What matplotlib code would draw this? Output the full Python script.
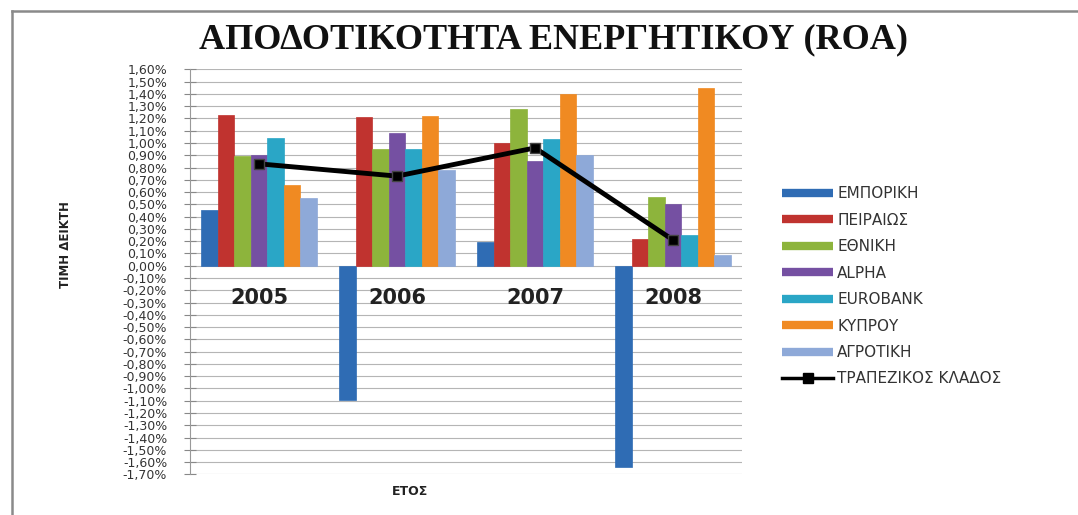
import numpy as np
import matplotlib
matplotlib.use("Agg")
from matplotlib import pyplot as plt
from matplotlib.lines import Line2D
from matplotlib.ticker import FuncFormatter, MultipleLocator

years = ["2005", "2006", "2007", "2008"]
banks = ["ΕΜΠΟΡΙΚΗ", "ΠΕΙΡΑΙΩΣ", "ΕΘΝΙΚΗ", "ALPHA", "EUROBANK", "ΚΥΠΡΟΥ", "ΑΓΡΟΤΙΚΗ"]

# ROA per bank, in %, one value per year
emporiki = [0.45, -1.09, 0.19, -1.64]
peiraios = [1.23, 1.21, 1.00, 0.22]
ethniki = [0.89, 0.95, 1.28, 0.56]
alpha = [0.90, 1.08, 0.85, 0.50]
eurobank = [1.04, 0.95, 1.03, 0.25]
kyprou = [0.66, 1.22, 1.40, 1.45]
agrotiki = [0.55, 0.78, 0.90, 0.09]
sector = [0.83, 0.73, 0.96, 0.21]

series = [emporiki, peiraios, ethniki, alpha, eurobank, kyprou, agrotiki]
colors = ["#2f6cb4", "#c0332f", "#8db43c", "#7550a2", "#2aa6c6", "#f08a22", "#8ea9d8"]

fig = plt.figure(figsize=(10.78, 5.15), dpi=100)
ax = fig.add_axes([0.1763, 0.0788, 0.512, 0.7866])

x = np.arange(len(years))
w = 0.12
for i, (vals, c) in enumerate(zip(series, colors)):
    ax.bar(x + (i - 3) * w, vals, width=w, color=c, edgecolor=c, linewidth=0.5, zorder=3)

ax.plot(x, sector, color="black", lw=3.5, marker="s", markersize=7,
        markerfacecolor="black", markeredgecolor="#444444", zorder=4)

# year labels sit inside the plot just below zero
for xi, yr in zip(x, years):
    ax.text(xi, -0.26, yr, ha="center", va="center", fontsize=15,
            fontweight="bold", color="#222222", zorder=5)

ax.set_xlim(-0.5, 3.5)
ax.set_ylim(-1.70, 1.60)
ax.yaxis.set_major_locator(MultipleLocator(0.1))
ax.yaxis.set_major_formatter(FuncFormatter(lambda v, p: f"{v:.2f}%".replace(".", ",").replace("-0,00", "0,00")))
ax.tick_params(axis="y", direction="inout", length=9, width=0.8, color="#888888",
               labelsize=9, labelcolor="#333333", pad=12)
ax.set_xticks([])
ax.grid(axis="y", color="#b5b5b5", lw=0.8, zorder=0)
for s in ["top", "right", "bottom"]:
    ax.spines[s].set_visible(False)
ax.spines["left"].set_color("#999999")

fig.text(0.061, 0.525, "ΤΙΜΗ ΔΕΙΚΤΗ", rotation=90, ha="center", va="center",
         fontsize=8.5, fontweight="bold", color="#222222")
fig.text(0.38, 0.045, "ΕΤΟΣ", ha="center", va="center",
         fontsize=9, fontweight="bold", color="#222222")
fig.text(0.513, 0.922, "ΑΠΟΔΟΤΙΚΟΤΗΤΑ ΕΝΕΡΓΗΤΙΚΟΥ (ROA)", ha="center", va="center",
         fontsize=26, fontweight="bold", family="Liberation Serif", color="#111111")

handles = [Line2D([], [], color=c, lw=6, solid_capstyle="butt") for c in colors]
handles.append(Line2D([], [], color="black", lw=2.5, marker="s", markersize=7))
labels = banks + ["ΤΡΑΠΕΖΙΚΟΣ ΚΛΑΔΟΣ"]
fig.legend(handles, labels, loc="upper left", bbox_to_anchor=(0.713, 0.665),
           frameon=False, fontsize=11, handlelength=3.3, handletextpad=0.3,
           labelspacing=0.75, labelcolor="#333333")

# chart frame (only left and top edges visible)
fig.add_artist(Line2D([12 / 1078, 12 / 1078], [0, 1 - 11 / 515], color="#8a8a8a", lw=1.8))
fig.add_artist(Line2D([12 / 1078, 1], [1 - 11 / 515, 1 - 11 / 515], color="#8a8a8a", lw=1.8))

fig.savefig("out.png", dpi=100)
